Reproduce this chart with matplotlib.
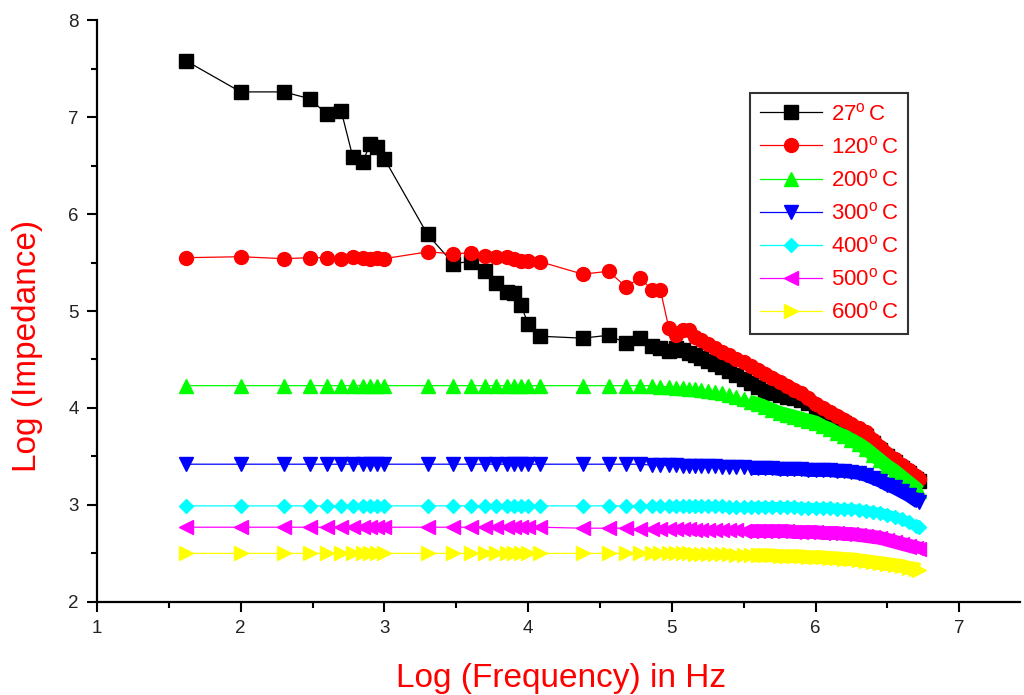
import matplotlib
matplotlib.use("Agg")
import matplotlib.pyplot as plt
from matplotlib.ticker import MultipleLocator

plt.rcParams['font.family'] = ['Liberation Sans', 'DejaVu Sans']

# log10 of measurement frequency (shared by all temperatures)
log_freq = [1.62, 2.0, 2.3, 2.48, 2.6, 2.7, 2.78, 2.85, 2.9, 2.95, 3.0,
            3.3, 3.48, 3.6, 3.7, 3.78, 3.85, 3.9, 3.95, 4.0, 4.08,
            4.38, 4.56, 4.68, 4.78, 4.86, 4.92, 4.98, 5.03, 5.08, 5.12, 5.16, 5.2,
            5.25, 5.3, 5.35, 5.4, 5.45, 5.5, 5.55, 5.6, 5.65, 5.7, 5.75, 5.8,
            5.85, 5.9, 5.95, 6.0, 6.05, 6.1, 6.15, 6.2, 6.25, 6.3, 6.35, 6.4,
            6.45, 6.5, 6.55, 6.6, 6.65, 6.7, 6.72]

z_27 = [7.58, 7.26, 7.26, 7.19, 7.03, 7.06, 6.59, 6.54, 6.72, 6.69, 6.57,
        5.79, 5.49, 5.51, 5.41, 5.29, 5.20, 5.19, 5.06, 4.87, 4.74,
        4.72, 4.75, 4.67, 4.72, 4.64, 4.62, 4.59, 4.62, 4.60, 4.57, 4.55, 4.52,
        4.48, 4.45, 4.42, 4.38, 4.34, 4.30, 4.26, 4.22, 4.18, 4.15, 4.13, 4.11,
        4.10, 4.08, 4.05, 4.00, 3.96, 3.92, 3.88, 3.84, 3.79, 3.75, 3.71, 3.64,
        3.57, 3.50, 3.44, 3.38, 3.33, 3.27, 3.25]
z_120 = [5.55, 5.56, 5.54, 5.55, 5.55, 5.54, 5.56, 5.55, 5.54, 5.55, 5.54,
         5.61, 5.59, 5.60, 5.57, 5.56, 5.56, 5.54, 5.52, 5.52, 5.51,
         5.38, 5.41, 5.25, 5.34, 5.22, 5.22, 4.82, 4.75, 4.80, 4.80, 4.73, 4.70,
         4.66, 4.62, 4.58, 4.55, 4.51, 4.47, 4.43, 4.39, 4.35, 4.31, 4.27, 4.23,
         4.19, 4.15, 4.10, 4.04, 4.00, 3.96, 3.92, 3.88, 3.83, 3.79, 3.75, 3.67,
         3.60, 3.53, 3.47, 3.41, 3.36, 3.30, 3.27]
z_200 = [4.23, 4.23, 4.23, 4.23, 4.23, 4.23, 4.23, 4.23, 4.23, 4.23, 4.23,
         4.23, 4.23, 4.23, 4.23, 4.23, 4.23, 4.23, 4.23, 4.23, 4.23,
         4.23, 4.23, 4.23, 4.23, 4.23, 4.22, 4.22, 4.21, 4.21, 4.20, 4.20, 4.19,
         4.18, 4.16, 4.15, 4.13, 4.11, 4.09, 4.06, 4.04, 4.01, 3.98, 3.95, 3.93,
         3.91, 3.89, 3.87, 3.85, 3.81, 3.78, 3.74, 3.71, 3.67, 3.63, 3.58, 3.52,
         3.46, 3.40, 3.35, 3.29, 3.23, 3.17, 3.14]
z_300 = [3.42, 3.42, 3.42, 3.42, 3.42, 3.42, 3.42, 3.42, 3.42, 3.42, 3.42,
         3.42, 3.42, 3.42, 3.42, 3.42, 3.42, 3.42, 3.42, 3.42, 3.42,
         3.42, 3.42, 3.42, 3.42, 3.41, 3.41, 3.41, 3.41, 3.40, 3.40, 3.40, 3.40,
         3.40, 3.40, 3.39, 3.39, 3.39, 3.39, 3.38, 3.38, 3.38, 3.38, 3.37, 3.37,
         3.37, 3.37, 3.36, 3.36, 3.36, 3.36, 3.35, 3.35, 3.34, 3.33, 3.31, 3.28,
         3.25, 3.21, 3.18, 3.14, 3.10, 3.05, 3.03]
z_400 = [2.99, 2.99, 2.99, 2.99, 2.99, 2.99, 2.99, 2.99, 2.99, 2.99, 2.99,
         2.99, 2.99, 2.99, 2.99, 2.99, 2.99, 2.99, 2.99, 2.99, 2.99,
         2.99, 2.99, 2.99, 2.99, 2.99, 2.99, 2.99, 2.99, 2.99, 2.99, 2.99, 2.99,
         2.99, 2.99, 2.99, 2.98, 2.98, 2.98, 2.98, 2.98, 2.98, 2.98, 2.98, 2.98,
         2.98, 2.97, 2.97, 2.97, 2.97, 2.97, 2.96, 2.96, 2.96, 2.95, 2.94, 2.93,
         2.92, 2.90, 2.88, 2.85, 2.82, 2.78, 2.77]
z_500 = [2.77, 2.77, 2.77, 2.77, 2.77, 2.77, 2.77, 2.77, 2.77, 2.77, 2.77,
         2.77, 2.77, 2.77, 2.77, 2.77, 2.77, 2.77, 2.77, 2.77, 2.77,
         2.76, 2.76, 2.76, 2.75, 2.75, 2.75, 2.75, 2.75, 2.75, 2.75, 2.74, 2.74,
         2.74, 2.74, 2.74, 2.74, 2.74, 2.73, 2.73, 2.73, 2.73, 2.73, 2.73, 2.73,
         2.72, 2.72, 2.72, 2.72, 2.71, 2.71, 2.71, 2.70, 2.70, 2.69, 2.68, 2.67,
         2.66, 2.64, 2.62, 2.60, 2.58, 2.56, 2.55]
z_600 = [2.50, 2.50, 2.50, 2.50, 2.50, 2.50, 2.50, 2.50, 2.50, 2.50, 2.50,
         2.50, 2.50, 2.50, 2.50, 2.50, 2.50, 2.50, 2.50, 2.50, 2.50,
         2.50, 2.50, 2.50, 2.50, 2.50, 2.50, 2.50, 2.50, 2.50, 2.50, 2.49, 2.49,
         2.49, 2.49, 2.49, 2.49, 2.48, 2.48, 2.48, 2.48, 2.48, 2.48, 2.47, 2.47,
         2.47, 2.47, 2.46, 2.46, 2.46, 2.45, 2.45, 2.44, 2.44, 2.43, 2.42, 2.41,
         2.40, 2.39, 2.38, 2.37, 2.35, 2.34, 2.33]

labels = ['27$^\\mathregular{o}\\,$C', '120$^\\mathregular{o}\\,$C', '200$^\\mathregular{o}\\,$C',
          '300$^\\mathregular{o}\\,$C', '400$^\\mathregular{o}\\,$C', '500$^\\mathregular{o}\\,$C',
          '600$^\\mathregular{o}\\,$C']
series = [z_27, z_120, z_200, z_300, z_400, z_500, z_600]
colors = ['#000000', '#ff0000', '#00ff00', '#0000ff', '#00ffff', '#ff00ff', '#ffff00']
markers = ['s', 'o', '^', 'v', 'D', '<', '>']
msizes = [9.5, 10, 10.5, 10.5, 7.5, 10.5, 10.5]
DENSE = 39  # from here on the sweep is so dense the markers merge into a band

fig = plt.figure(figsize=(10.24, 6.95), dpi=100)
ax = fig.add_axes([0.0947, 0.134, 0.901, 0.837])

for y, lab, c, m, ms in zip(series, labels, colors, markers, msizes):
    ax.plot(log_freq, y, color=c, lw=0.9, marker=m, ms=ms, mec=c, mfc=c, label=lab)
    ax.plot(log_freq[DENSE:], y[DENSE:], color=c, lw=ms * 0.95, solid_capstyle='butt')

ax.set_xlim(1, 7.42)
ax.set_ylim(2, 8)
ax.xaxis.set_major_locator(MultipleLocator(1))
ax.xaxis.set_minor_locator(MultipleLocator(0.5))
ax.yaxis.set_major_locator(MultipleLocator(1))
ax.yaxis.set_minor_locator(MultipleLocator(0.5))
ax.tick_params(which='major', direction='out', length=7, width=1.5, labelsize=13.5,
               pad=6, labelcolor='#222222')
ax.tick_params(which='minor', direction='out', length=4, width=1.5)
for side in ('top', 'right'):
    ax.spines[side].set_visible(False)
for side in ('left', 'bottom'):
    ax.spines[side].set_linewidth(1.6)

ax.set_xlabel('Log (Frequency) in Hz', color='#ff0000', fontsize=24)
ax.xaxis.set_label_coords(0.503, -0.105)
ax.set_ylabel('Log (Impedance)', color='#ff0000', fontsize=24)
ax.yaxis.set_label_coords(-0.058, 0.44)

leg = ax.legend(loc='upper left', bbox_to_anchor=(0.7075, 0.8746), borderaxespad=0,
                fontsize=16, frameon=True, fancybox=False, framealpha=1,
                edgecolor='#333333', labelspacing=0.5, handlelength=2.8,
                borderpad=0.45, handletextpad=0.4)
leg.get_frame().set_linewidth(1.5)
for t in leg.get_texts():
    t.set_color('#ff0000')

fig.savefig('out.png', dpi=100)
